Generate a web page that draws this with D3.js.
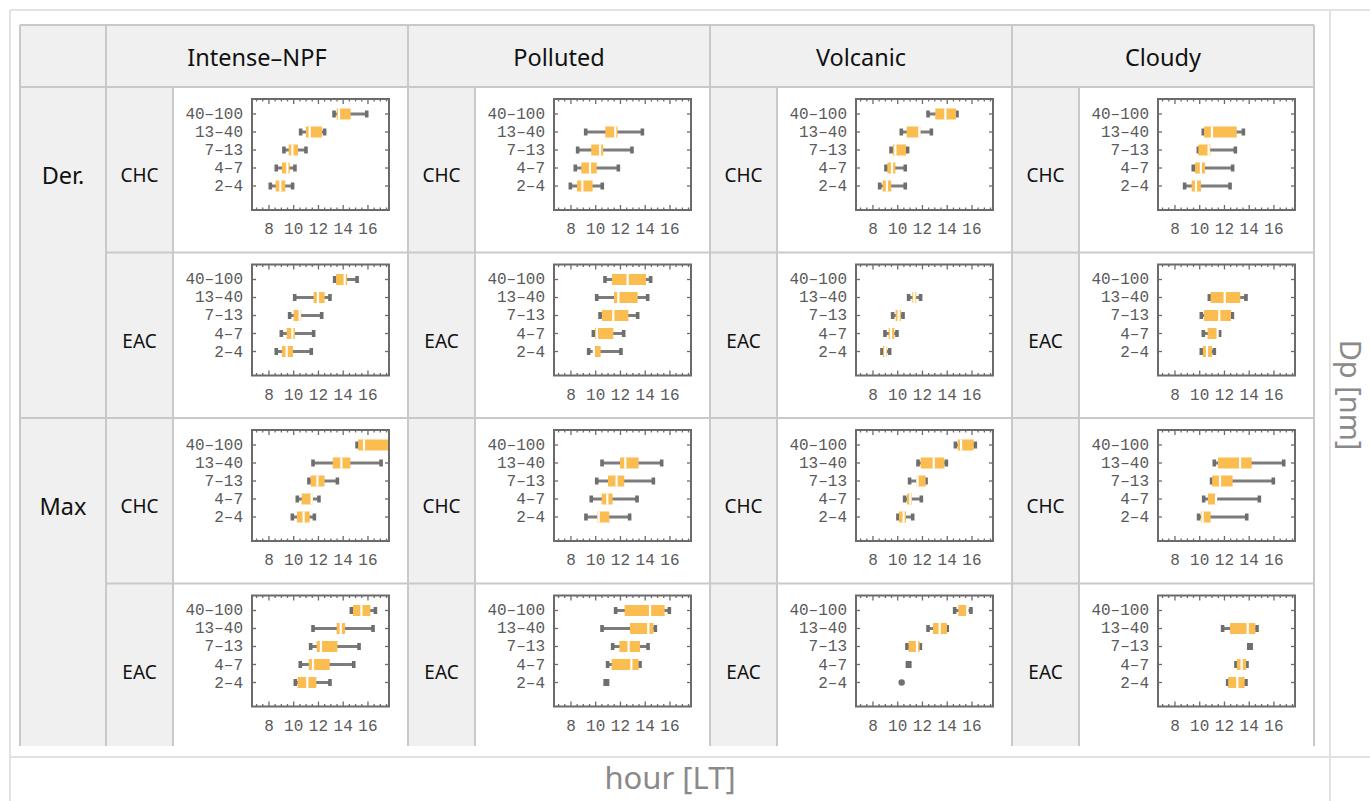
<!DOCTYPE html>
<html>
<head>
<meta charset="utf-8">
<script src="https://cdn.jsdelivr.net/npm/d3@7/dist/d3.min.js"></script>
<style>
  html, body { margin: 0; padding: 0; background: #fff; }
  svg { display: block; }
</style>
</head>
<body>
<div id="chart"></div>
<script>
const groups = ['Intense–NPF', 'Polluted', 'Volcanic', 'Cloudy'];
const measures = ['Der.', 'Max'];
const stations = ['CHC', 'EAC'];
const sizeBins = ['40–100', '13–40', '7–13', '4–7', '2–4'];
const hourTicks = [8, 10, 12, 14, 16];

// [min, q1, median, q3, max] per size bin (top to bottom), null = no data
const npfDerCHC = [[13.26, 13.47, 13.66, 14.6, 15.9], [10.56, 10.99, 11.29, 12.29, 12.5], [9.21, 9.59, 9.89, 10.35, 10.99], [8.59, 9.05, 9.48, 9.67, 10.1], [8.11, 8.54, 8.92, 9.32, 9.91]];
const npfDerEAC = [[13.31, 13.42, 14.12, 14.31, 15.12], [10.08, 11.61, 11.96, 12.5, 12.93], [9.67, 9.99, 10.48, 10.61, 12.26], [9.0, 9.43, 9.89, 10.1, 11.61], [8.59, 9.05, 9.43, 9.94, 11.42]];
const npfMaxCHC = [[15.12, 15.2, 15.68, 17.8, 18.2], [11.56, 13.15, 13.85, 14.58, 17.06], [11.23, 11.37, 11.91, 12.5, 13.53], [10.29, 10.64, 11.45, 11.56, 12.04], [9.89, 10.26, 10.8, 11.29, 11.67]];
const npfMaxEAC = [[14.66, 14.79, 15.47, 16.19, 16.6], [11.56, 13.47, 13.8, 14.15, 16.41], [11.37, 11.85, 12.2, 13.53, 15.28], [10.53, 11.21, 11.56, 12.91, 14.85], [10.13, 10.32, 11.1, 11.83, 12.93]];

const polDerCHC = [null, [9.19, 10.78, 11.58, 11.77, 13.77], [8.54, 9.64, 10.35, 10.61, 12.93], [8.35, 8.84, 9.54, 10.08, 11.83], [7.95, 8.49, 8.92, 9.75, 10.53]];
const polDerEAC = [[10.75, 11.32, 12.58, 14.06, 14.44], [10.08, 11.48, 11.83, 13.39, 14.2], [10.35, 10.51, 11.42, 12.64, 13.39], [9.81, 9.94, 10.1, 11.42, 12.26], [9.43, 9.81, 9.85, 10.4, 12.04]];
const polMaxCHC = [null, [10.51, 11.96, 12.39, 13.47, 15.33], [10.08, 10.99, 11.69, 12.31, 14.66], [9.64, 10.48, 10.94, 11.37, 13.34], [9.21, 10.13, 10.24, 11.1, 12.74]];
const polMaxEAC = [[11.61, 12.34, 14.39, 15.57, 15.95], [10.51, 12.77, 14.25, 14.66, 14.82], [11.37, 11.91, 12.66, 13.58, 14.23], [10.96, 11.29, 12.88, 13.47, 13.58], [10.82, 10.86, 10.86, 10.86, 10.9]];

const volDerCHC = [[12.45, 13.04, 13.85, 14.71, 14.79], [10.29, 10.72, 11.75, 11.83, 12.72], [9.46, 9.62, 9.81, 10.67, 10.8], [9.05, 9.16, 9.54, 9.81, 10.61], [8.54, 8.78, 9.13, 9.48, 10.61]];
const volDerEAC = [null, [10.88, 11.18, 11.34, 11.5, 11.85], [9.59, 9.83, 10.08, 10.26, 10.43], [8.97, 9.27, 9.46, 9.73, 9.94], [8.73, 8.81, 9.0, 9.13, 9.35]];
const volMaxCHC = [[14.66, 14.85, 15.12, 16.14, 16.27], [11.64, 11.85, 12.91, 13.77, 13.93], [10.96, 11.5, 11.6, 12.26, 12.29], [10.56, 10.75, 11.02, 11.15, 11.91], [10.02, 10.1, 10.48, 10.67, 11.21]];
const volMaxEAC = [[14.6, 14.9, 15.62, 15.7, 15.92], [12.45, 12.85, 13.39, 13.98, 14.0], [10.75, 10.88, 11.56, 11.77, 11.83], [10.84, 10.86, 10.88, 10.9, 10.92], [10.32, 10.32, 10.32, 10.32, 10.32]];

const cldDerCHC = [null, [10.29, 10.35, 10.99, 12.99, 13.53], [9.89, 9.89, 10.72, 10.86, 12.88], [9.48, 9.62, 10.1, 10.43, 12.66], [8.78, 9.35, 9.7, 10.1, 12.45]];
const cldDerEAC = [null, [10.78, 10.88, 12.02, 13.28, 13.74], [10.13, 10.35, 11.58, 12.53, 12.64], [10.29, 10.64, 11.45, 11.48, 11.61], [10.13, 10.26, 10.59, 10.99, 11.18]];
const cldMaxCHC = [null, [11.18, 11.48, 13.26, 14.2, 16.79], [10.96, 11.0, 11.64, 12.66, 15.95], [10.32, 10.67, 11.32, 11.4, 14.82], [9.91, 10.1, 10.24, 10.88, 13.8]];
const cldMaxEAC = [null, [11.85, 12.45, 13.88, 14.5, 14.63], [14.02, 14.04, 14.06, 14.08, 14.1], [12.93, 13.0, 13.39, 13.75, 13.82], [12.26, 12.3, 13.04, 13.63, 13.74]];

// rows of the table: measure x station, each with one panel per group
const tableRows = [
  { measure: 'Der.', station: 'CHC', panels: [npfDerCHC, polDerCHC, volDerCHC, cldDerCHC] },
  { measure: 'Der.', station: 'EAC', panels: [npfDerEAC, polDerEAC, volDerEAC, cldDerEAC] },
  { measure: 'Max', station: 'CHC', panels: [npfMaxCHC, polMaxCHC, volMaxCHC, cldMaxCHC] },
  { measure: 'Max', station: 'EAC', panels: [npfMaxEAC, polMaxEAC, volMaxEAC, cldMaxEAC] }
];

const W = 1370, H = 801;
const T = { x: 20, y: 25, headH: 62, rowH: 165.5, col0: 86, sub: 67, panel: 235, bottom: 746 };
const groupW = T.sub + T.panel;
const tableR = T.x + T.col0 + groups.length * groupW;
const plot = { dx: 79, dy: 12, w: 137, h: 111 };
const LINE = '#c9c9c9', CELL = '#f0f0f0', FRAME = '#6b6b6b', TXT = '#5a5a5a', ORANGE = '#fbbd4f';

const svg = d3.select('#chart').append('svg').attr('width', W).attr('height', H);

// outer frame
const outer = svg.append('g').attr('stroke', '#e2e2e2').attr('stroke-width', 2);
outer.append('line').attr('x1', 10).attr('x2', W).attr('y1', 10).attr('y2', 10);
outer.append('line').attr('x1', 10).attr('x2', 10).attr('y1', 10).attr('y2', H);
outer.append('line').attr('x1', 1330).attr('x2', 1330).attr('y1', 10).attr('y2', H);
outer.append('line').attr('x1', 10).attr('x2', W).attr('y1', 757).attr('y2', 757);

svg.append('text').attr('x', 670).attr('y', 789).attr('text-anchor', 'middle')
  .attr('font-family', 'Noto Sans, sans-serif').attr('font-size', 31).attr('fill', '#8a8a8a')
  .text('hour [LT]');
svg.append('text').attr('transform', 'translate(1340,395) rotate(90)').attr('text-anchor', 'middle')
  .attr('font-family', 'Noto Sans, sans-serif').attr('font-size', 29).attr('fill', '#8a8a8a')
  .text('Dp [nm]');

svg.append('clipPath').attr('id', 'tclip').append('rect')
  .attr('x', 0).attr('y', 0).attr('width', W).attr('height', T.bottom);
const table = svg.append('g').attr('clip-path', 'url(#tclip)');

const rowTop = i => T.y + T.headH + i * T.rowH;
const groupX = g => T.x + T.col0 + g * groupW;

// backgrounds
table.append('rect').attr('x', T.x).attr('y', T.y).attr('width', tableR - T.x).attr('height', T.headH).attr('fill', CELL);
table.append('rect').attr('x', T.x).attr('y', rowTop(0)).attr('width', T.col0).attr('height', T.bottom).attr('fill', CELL);
groups.forEach((g, gi) => {
  table.append('rect').attr('x', groupX(gi)).attr('y', rowTop(0)).attr('width', T.sub).attr('height', T.bottom).attr('fill', CELL);
});

// grid lines
const grid = table.append('g').attr('stroke', LINE).attr('stroke-width', 2);
grid.append('line').attr('x1', T.x).attr('x2', tableR).attr('y1', T.y).attr('y2', T.y);
tableRows.forEach((r, i) => {
  const x1 = (i % 2 === 0) ? T.x : T.x + T.col0;
  grid.append('line').attr('x1', x1).attr('x2', tableR).attr('y1', rowTop(i)).attr('y2', rowTop(i));
});
[T.x, tableR].forEach(x => grid.append('line').attr('x1', x).attr('x2', x).attr('y1', T.y).attr('y2', H));
groups.forEach((g, gi) => {
  grid.append('line').attr('x1', groupX(gi)).attr('x2', groupX(gi)).attr('y1', T.y).attr('y2', H);
  grid.append('line').attr('x1', groupX(gi) + T.sub).attr('x2', groupX(gi) + T.sub).attr('y1', rowTop(0)).attr('y2', H);
});

// header text
groups.forEach((g, gi) => {
  table.append('text').attr('x', groupX(gi) + groupW / 2).attr('y', T.y + T.headH / 2 + 10)
    .attr('text-anchor', 'middle').attr('font-family', 'Noto Sans, sans-serif').attr('font-size', 23.5)
    .attr('fill', '#111').text(g);
});
measures.forEach((m, mi) => {
  table.append('text').attr('x', T.x + T.col0 / 2).attr('y', rowTop(mi * 2) + 88 + 9)
    .attr('text-anchor', 'middle').attr('font-family', 'Noto Sans, sans-serif').attr('font-size', 23.5)
    .attr('fill', '#111').text(m);
});

const x = d3.scaleLinear().domain([6.63, 17.7]).range([0, plot.w]);
const y = d3.scaleLinear().domain([-0.833, 5.333]).range([0, plot.h]);
const minorTicks = d3.range(7, 17.75, 0.5).filter(v => v % 2 !== 0);

tableRows.forEach((row, ri) => {
  groups.forEach((g, gi) => {
    table.append('text').attr('x', groupX(gi) + T.sub / 2).attr('y', rowTop(ri) + 88 + 7)
      .attr('text-anchor', 'middle').attr('font-family', 'Noto Sans, sans-serif').attr('font-size', 19)
      .attr('fill', '#111').text(row.station);

    const px = groupX(gi) + T.sub + plot.dx, py = rowTop(ri) + plot.dy;
    const p = table.append('g').attr('transform', `translate(${px},${py})`);
    const clipId = `pc${ri}${gi}`;
    p.append('clipPath').attr('id', clipId).append('rect').attr('width', plot.w).attr('height', plot.h);

    // ticks (inward) on all four sides
    const tk = p.append('g').attr('stroke', FRAME).attr('stroke-width', 1.3);
    hourTicks.forEach(v => {
      tk.append('line').attr('x1', x(v)).attr('x2', x(v)).attr('y1', plot.h).attr('y2', plot.h - 5);
      tk.append('line').attr('x1', x(v)).attr('x2', x(v)).attr('y1', 0).attr('y2', 5);
    });
    minorTicks.forEach(v => {
      tk.append('line').attr('x1', x(v)).attr('x2', x(v)).attr('y1', plot.h).attr('y2', plot.h - 2.5);
      tk.append('line').attr('x1', x(v)).attr('x2', x(v)).attr('y1', 0).attr('y2', 2.5);
    });
    sizeBins.forEach((b, bi) => {
      tk.append('line').attr('x1', 0).attr('x2', 4).attr('y1', y(bi)).attr('y2', y(bi));
      tk.append('line').attr('x1', plot.w).attr('x2', plot.w - 4).attr('y1', y(bi)).attr('y2', y(bi));
    });

    // tick labels
    p.selectAll('text.yl').data(sizeBins).join('text').attr('class', 'yl')
      .attr('x', -9).attr('y', (d, i) => y(i) + 5).attr('text-anchor', 'end')
      .attr('font-family', 'Liberation Mono, monospace').attr('font-size', 16).attr('fill', TXT)
      .text(d => d);
    p.selectAll('text.xl').data(hourTicks).join('text').attr('class', 'xl')
      .attr('x', d => x(d)).attr('y', plot.h + 24).attr('text-anchor', 'middle')
      .attr('font-family', 'Liberation Mono, monospace').attr('font-size', 16).attr('fill', TXT)
      .text(d => d);

    // box-whisker marks
    const marks = p.append('g').attr('clip-path', `url(#${clipId})`);
    row.panels[gi].forEach((s, bi) => {
      if (!s) return;
      const [mn, q1, md, q3, mx] = s;
      const cy = y(bi);
      if (mn === mx) {
        marks.append('circle').attr('cx', x(mn)).attr('cy', cy).attr('r', 3.2).attr('fill', '#707070');
        return;
      }
      if (mx - mn < 0.3) {
        // very narrow spread: whisker caps merge into a small block
        marks.append('rect').attr('x', x(mn) - 2.5).attr('y', cy - 3.5)
          .attr('width', x(mx) - x(mn) + 5).attr('height', 7).attr('fill', '#6e6e6e');
        return;
      }
      marks.append('line').attr('x1', x(mn)).attr('x2', x(mx)).attr('y1', cy).attr('y2', cy)
        .attr('stroke', '#7c7c7c').attr('stroke-width', 3);
      [mn, mx].forEach(v => {
        marks.append('rect').attr('x', x(v) - 1.8).attr('y', cy - 3.5).attr('width', 3.6).attr('height', 7)
          .attr('fill', '#6e6e6e');
      });
      marks.append('rect').attr('x', x(q1)).attr('y', cy - 5.5).attr('width', Math.max(1, x(q3) - x(q1)))
        .attr('height', 11).attr('fill', ORANGE);
      marks.append('line').attr('x1', x(md)).attr('x2', x(md)).attr('y1', cy - 5.5).attr('y2', cy + 5.5)
        .attr('stroke', '#fff').attr('stroke-width', 2.2);
    });

    p.append('rect').attr('width', plot.w).attr('height', plot.h)
      .attr('fill', 'none').attr('stroke', FRAME).attr('stroke-width', 2);
  });
});
</script>
</body>
</html>
